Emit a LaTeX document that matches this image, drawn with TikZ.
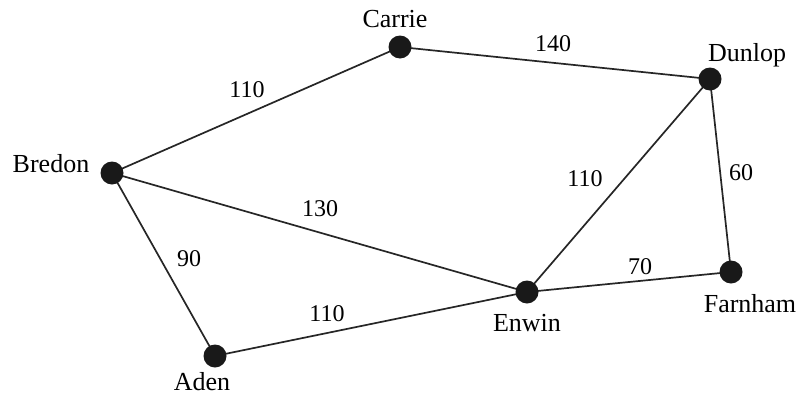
\documentclass[tikz,border=0pt]{standalone}
\usepackage{fontspec}
\setmainfont{Liberation Serif}
\begin{document}
\begin{tikzpicture}[x=1pt,y=-1pt,
  town/.style={circle,fill=black!90,inner sep=0pt,minimum size=23pt},
  road/.style={line width=1.7pt,black!85},
  place/.style={font=\fontsize{26}{28}\selectfont,anchor=base,inner sep=0pt},
  dist/.style={font=\fontsize{24}{26}\selectfont,inner sep=0pt}]
\useasboundingbox (0,0) rectangle (798,394);
% towns
\coordinate (B) at (112,173);
\coordinate (C) at (400,47);
\coordinate (D) at (710,79);
\coordinate (E) at (527,292);
\coordinate (F) at (731,272);
\coordinate (A) at (215,356);
% roads
\draw[road] (B) -- (C);
\draw[road] (C) -- (D);
\draw[road] (B) -- (E);
\draw[road] (B) -- (A);
\draw[road] (A) -- (E);
\draw[road] (E) -- (D);
\draw[road] (D) -- (F);
\draw[road] (E) -- (F);
% dots
\foreach \t in {A,B,C,D,E,F} \node[town] (\t n) at (\t) {};
% town names
\node[place] (lb) at (51,172) {Bredon};
\node[place] (lc) at (395,27) {Carrie};
\node[place] (ld) at (747,61) {Dunlop};
\node[place] (le) at (527,331) {Enwin};
\node[place] (lf) at (750,312) {Farnham};
\node[place] (la) at (202,390) {Aden};
% distances
\node[dist] (d1) at (247,90) {110};
\node[dist] (d2) at (553,44) {140};
\node[dist] (d3) at (320,209) {130};
\node[dist] (d4) at (189,259) {90};
\node[dist] (d5) at (327,314) {110};
\node[dist] (d6) at (585,179) {110};
\node[dist] (d7) at (741,173) {60};
\node[dist] (d8) at (640,267) {70};
\end{tikzpicture}
\end{document}
